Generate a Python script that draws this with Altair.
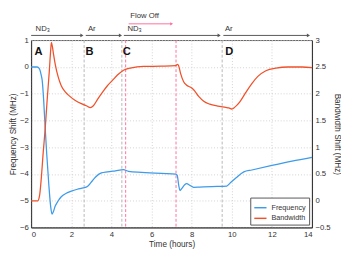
import altair as alt
import pandas as pd

# ---------------- data ----------------
freq_t = [0, 0.3, 0.4, 0.5, 0.55, 0.62, 0.7, 0.78, 0.88, 0.97, 1.04, 1.1, 1.2, 1.35, 1.5, 1.75, 2.0, 2.3,
          2.6, 2.8, 3.0, 3.2, 3.5, 3.8, 4.2, 4.6, 4.85, 5.5, 6.5, 7.2, 7.28, 7.35, 7.42, 7.5, 7.65, 7.75,
          7.9, 8.1, 8.4, 9.0, 9.75, 9.9, 10.2, 10.6, 11.0, 12.0, 13.0, 14.0]
freq_v = [0, 0, -0.05, -0.3, -0.5, -1.2, -2.3, -3.3, -4.4, -5.2, -5.5, -5.42, -5.2, -5.0, -4.85, -4.72, -4.64, -4.57,
          -4.52, -4.47, -4.3, -4.12, -3.96, -3.92, -3.88, -3.84, -3.9, -3.94, -3.98, -4.0, -4.05, -4.4, -4.62, -4.55, -4.4, -4.36,
          -4.42, -4.5, -4.49, -4.47, -4.45, -4.35, -4.15, -3.92, -3.85, -3.68, -3.52, -3.38]

bw_t = [0, 0.33, 0.42, 0.5, 0.6, 0.7, 0.8, 0.9, 0.97, 1.01, 1.06, 1.12, 1.2, 1.35, 1.5, 1.7, 1.9, 2.2, 2.5,
        2.75, 2.95, 3.1, 3.3, 3.55, 3.8, 4.05, 4.3, 4.6, 5.0, 5.6, 6.5, 7.2, 7.3, 7.35, 7.45, 7.6, 7.75,
        7.95, 8.1, 8.35, 8.6, 8.9, 9.3, 9.7, 9.85, 10.0, 10.15, 10.4, 10.7, 11.0, 11.3, 11.7, 12.2, 12.8, 13.5, 14.0]
bw_v = [0, 0, 0.1, 0.4, 0.9, 1.35, 1.9, 2.4, 2.8, 2.96, 2.875, 2.725, 2.55, 2.31, 2.15, 2.035, 1.96, 1.875, 1.815,
        1.775, 1.74, 1.775, 1.89, 2.025, 2.15, 2.25, 2.35, 2.44, 2.485, 2.51, 2.515, 2.525, 2.55, 2.525, 2.375, 2.225, 2.16,
        2.12, 2.075, 1.95, 1.86, 1.805, 1.77, 1.745, 1.735, 1.715, 1.75, 1.85, 2.025, 2.19, 2.325, 2.43, 2.48, 2.5, 2.5, 2.49]

gray_lines = [2.64, 4.52, 9.52]
pink_lines = [4.71, 7.22]

letters = ["A", "B", "C", "D"]
letter_t = [0.36, 2.91, 4.77, 9.87]

phase_labels = ["ND₃", "Ar", "ND₃", "Ar"]
phase_label_t = [0.22, 2.83, 4.8, 9.66]
phase_start = [0.0, 2.72, 4.62, 9.58]
phase_end = [2.53, 4.45, 9.37, 13.82]

flow_label = ["Flow Off"]
flow_label_t = [4.94]
flow_start = [4.86]
flow_end = [7.0]

BLUE = "#3d9be9"
RED = "#f0512a"
PINK = "#ff6f9a"
GRAY = "#b5b5b5"
DARK = "#333333"
FONT = "Liberation Sans"

W, H = 291, 194

freq_df = pd.DataFrame({"time": freq_t, "value": freq_v, "series": "Frequency"})
bw_df = pd.DataFrame({"time": bw_t, "value": bw_v, "series": "Bandwidth"})
gray_df = pd.DataFrame({"time": gray_lines})
pink_df = pd.DataFrame({"time": pink_lines})
letter_df = pd.DataFrame({"label": letters, "time": letter_t, "value": [0.54] * 4})
phase_df = pd.DataFrame({"label": phase_labels, "time": phase_label_t})
arrow_df = pd.DataFrame({"start": phase_start, "end": phase_end})
flow_df = pd.DataFrame({"label": flow_label, "time": flow_label_t})
flow_arrow_df = pd.DataFrame({"start": flow_start, "end": flow_end})

xscale = alt.Scale(domain=[0, 14], nice=False, zero=False)
xaxis = alt.Axis(values=list(range(0, 15, 2)), title="Time (hours)", grid=True,
                 gridDash=[1, 2], gridColor="#d0d0d0", ticks=False, labelPadding=3,
                 titlePadding=2, domainColor=DARK, labelOverlap=False)
yscale = alt.Scale(domain=[-6, 1], nice=False, zero=False)
yaxis = alt.Axis(values=list(range(-6, 2)), title="Frequency Shift (MHz)", grid=True,
                 gridDash=[1, 2], gridColor="#d0d0d0", ticks=False, labelPadding=3,
                 titlePadding=2, domainColor=DARK, orient="left", labelOverlap=False)
color = alt.Color("series:N",
                  scale=alt.Scale(domain=["Frequency", "Bandwidth"], range=[BLUE, RED]),
                  legend=alt.Legend(title=None, orient="bottom-right", offset=3,
                                    fillColor="white", strokeColor="#555555", padding=3,
                                    symbolType="stroke", symbolSize=160, symbolStrokeWidth=1.5,
                                    labelFontSize=7.5, labelFont=FONT, rowPadding=0,
                                    labelColor=DARK))

X = alt.X("time:Q", scale=xscale, axis=xaxis)
Y = alt.Y("value:Q", scale=yscale, axis=yaxis)

freq_line = alt.Chart(freq_df).mark_line(strokeWidth=1.3, interpolate="monotone").encode(
    x=X, y=Y, color=color)

gray_rules = alt.Chart(gray_df).mark_rule(color=GRAY, strokeDash=[3, 2], strokeWidth=1).encode(x=X)
pink_rules = alt.Chart(pink_df).mark_rule(color=PINK, strokeDash=[3, 2], strokeWidth=1).encode(x=X)

letter_text = alt.Chart(letter_df).mark_text(fontSize=11.5, fontWeight="bold", font=FONT,
                                             color="#111111", align="center", baseline="middle").encode(
    x=X, y=Y, text="label:N")

phase_text = alt.Chart(phase_df).mark_text(fontSize=8, font=FONT, color=DARK, align="left",
                                           baseline="middle").encode(
    x=X, y=alt.value(-12), text="label:N")
phase_rules = alt.Chart(arrow_df).mark_rule(color="#555555", strokeWidth=1).encode(
    x=alt.X("start:Q", scale=xscale, axis=xaxis), x2="end:Q", y=alt.value(-5))
phase_heads = alt.Chart(arrow_df).mark_point(shape="triangle-right", filled=True, size=14,
                                             color="#555555", opacity=1).encode(
    x=alt.X("end:Q", scale=xscale, axis=xaxis), y=alt.value(-5))

flow_text = alt.Chart(flow_df).mark_text(fontSize=8, font=FONT, color=DARK, align="left",
                                         baseline="middle").encode(
    x=X, y=alt.value(-25), text="label:N")
flow_rule = alt.Chart(flow_arrow_df).mark_rule(color=PINK, strokeWidth=1).encode(
    x=alt.X("start:Q", scale=xscale, axis=xaxis), x2="end:Q", y=alt.value(-17))
flow_head = alt.Chart(flow_arrow_df).mark_point(shape="triangle-right", filled=True, size=12,
                                                color=PINK, opacity=1).encode(
    x=alt.X("end:Q", scale=xscale, axis=xaxis), y=alt.value(-17))

left = alt.layer(gray_rules, pink_rules, freq_line, letter_text, phase_text, phase_rules,
                 phase_heads, flow_text, flow_rule, flow_head)

bw_line = alt.Chart(bw_df).mark_line(strokeWidth=1.3, interpolate="monotone").encode(
    x=X,
    y=alt.Y("value:Q", scale=alt.Scale(domain=[-0.5, 3], nice=False, zero=False),
            axis=alt.Axis(values=[-0.5, 0, 0.5, 1, 1.5, 2, 2.5, 3], title="Bandwidth Shift (MHz)",
                          grid=False, ticks=False, labelPadding=3, titlePadding=2, format="~g",
                          domainColor=DARK, orient="right", labelOverlap=False)),
    color=color,
)

chart = alt.layer(left, bw_line).resolve_scale(y="independent").properties(
    width=W, height=H, padding=0
).configure_view(stroke=DARK, strokeWidth=0.8).configure_axis(
    labelFont=FONT, titleFont=FONT, labelFontSize=8, titleFontSize=8.5,
    labelColor=DARK, titleColor=DARK, titleFontWeight="normal"
)

chart.save("out.html", embed_options={"renderer": "svg", "actions": False})
